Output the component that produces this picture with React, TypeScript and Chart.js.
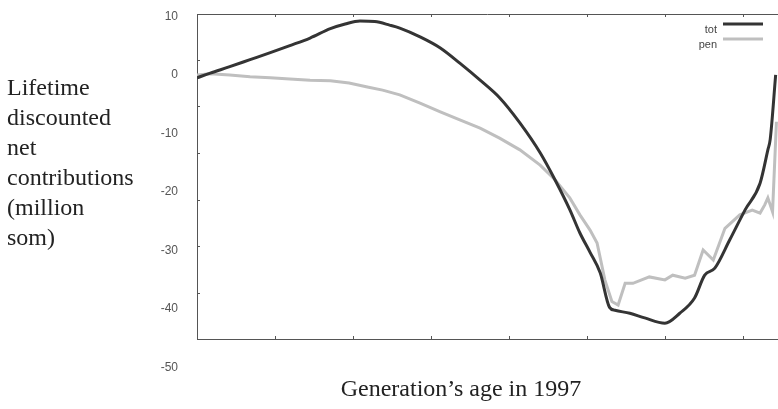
import React, { useEffect, useRef } from 'react';
import { Chart, registerables } from 'chart.js';

Chart.register(...registerables);

// Generation's age in 1997 (x) and lifetime discounted net contributions (million som)
const totAges = [0, 1.7, 4.2, 6.8, 9.4, 11.9, 14.5, 17.1, 19, 20.9, 22.8, 24.7, 26, 28.6, 31.2, 33.7, 36.3, 38.8, 41.4, 44, 45.9, 47.8, 49.1, 50.4, 51.7, 52.9, 53.6, 55.5, 57.4, 60, 61.9, 63.8, 65.1, 66.4, 68.3, 70.3, 72.2, 73.2, 73.5, 74.2];
const totValues = [-0.5, 0.3, 1.4, 2.6, 3.8, 5.0, 6.3, 7.9, 8.7, 9.2, 9.1, 8.5, 8.0, 6.5, 4.6, 2.0, -0.9, -3.9, -8.2, -13.3, -17.9, -23.0, -27.0, -30.3, -33.8, -39.7, -40.2, -40.7, -41.5, -42.4, -40.7, -38.1, -34.2, -33.0, -28.2, -23.0, -18.5, -12.8, -11.0, 0.0];

const penAges = [0, 1.7, 4.2, 6.8, 9.4, 11.9, 14.5, 17.1, 19.5, 22, 23.8, 26, 28.6, 31.2, 33.7, 36.3, 38.8, 41.4, 44, 45.9, 47.8, 49.1, 50.4, 51.3, 52.3, 53.2, 54, 54.9, 55.9, 58, 60, 61, 62.6, 63.8, 64.9, 66.2, 67.7, 69.6, 71.2, 72.2, 72.8, 73.2, 73.8, 74.3];
const penValues = [0.0, 0.2, 0.0, -0.3, -0.5, -0.7, -0.9, -1.0, -1.4, -2.1, -2.6, -3.4, -4.8, -6.3, -7.7, -9.1, -10.8, -12.8, -15.4, -17.9, -21.0, -23.9, -26.5, -28.7, -35.0, -38.7, -39.3, -35.6, -35.6, -34.5, -35.0, -34.2, -34.7, -34.2, -29.9, -31.6, -26.2, -23.9, -23.1, -23.6, -22.2, -21.0, -23.4, -8.0];

const seriesLabels = ['tot', 'pen'];
const seriesColors = ['#343434', '#bfbfbf'];

const yTickValues = [10, 0, -10, -20, -30, -40, -50];
const yFrameTicks = [2.6, -5.3, -13.3, -21.4, -29.2, -37.2];
const xFrameTicks = [10, 20, 30, 40, 50, 60, 70];

const yTitleLines = ['Lifetime', 'discounted', 'net', 'contributions', '(million', 'som)'];
const xTitle = 'Generation\u2019s age in 1997';

const frameAndLegend = {
  id: 'frameAndLegend',
  afterDraw(chart: any) {
    const { ctx, chartArea, scales } = chart;
    const { left, right, top, bottom } = chartArea;
    ctx.save();
    ctx.strokeStyle = '#555';
    ctx.lineWidth = 1;
    // top border
    ctx.beginPath();
    ctx.moveTo(left, top + 0.5);
    ctx.lineTo(right, top + 0.5);
    ctx.stroke();
    // inward ticks on x (top & bottom)
    xFrameTicks.forEach((v) => {
      const px = Math.round(scales.x.getPixelForValue(v)) + 0.5;
      ctx.beginPath();
      ctx.moveTo(px, bottom);
      ctx.lineTo(px, bottom - 3);
      ctx.moveTo(px, top);
      ctx.lineTo(px, top + 3);
      ctx.stroke();
    });
    // inward ticks on y
    yFrameTicks.forEach((v) => {
      const py = Math.round(scales.y.getPixelForValue(v)) + 0.5;
      ctx.beginPath();
      ctx.moveTo(left, py);
      ctx.lineTo(left + 3, py);
      ctx.stroke();
    });
    // legend
    ctx.font = '11px "Liberation Sans", Arial, sans-serif';
    ctx.textAlign = 'right';
    ctx.textBaseline = 'alphabetic';
    chart.data.datasets.forEach((ds: any, i: number) => {
      const ly = top + 10 + i * 15;
      ctx.fillStyle = '#444';
      ctx.fillText(ds.label, right - 61, ly + 9);
      ctx.strokeStyle = ds.borderColor;
      ctx.lineWidth = 3;
      ctx.beginPath();
      ctx.moveTo(right - 55, ly);
      ctx.lineTo(right - 15, ly);
      ctx.stroke();
    });
    ctx.restore();
  },
};

export default function App() {
  const canvasRef = useRef<HTMLCanvasElement | null>(null);

  useEffect(() => {
    if (!canvasRef.current) return;
    const chart = new Chart(canvasRef.current, {
      type: 'line',
      data: {
        datasets: [
          {
            label: seriesLabels[0],
            data: totAges.map((a, i) => ({ x: a, y: totValues[i] })),
            borderColor: seriesColors[0],
            borderWidth: 3,
            pointRadius: 0,
            cubicInterpolationMode: 'monotone',
          },
          {
            label: seriesLabels[1],
            data: penAges.map((a, i) => ({ x: a, y: penValues[i] })),
            borderColor: seriesColors[1],
            borderWidth: 3,
            pointRadius: 0,
            tension: 0,
          },
        ],
      },
      options: {
        animation: false,
        responsive: false,
        layout: { padding: { left: 0, right: 0, top: 14, bottom: 0 } },
        plugins: {
          legend: { display: false },
          tooltip: { enabled: false },
        },
        scales: {
          x: {
            type: 'linear',
            min: 0,
            max: 74.5,
            grid: { display: false },
            border: { display: true, color: '#555', width: 1 },
            ticks: { display: false },
            afterFit: (scale: any) => {
              scale.height = 70;
              scale.paddingLeft = 0;
              scale.paddingRight = 0;
            },
          },
          y: {
            type: 'linear',
            min: -45.1,
            max: 10.4,
            grid: { display: false },
            border: { display: true, color: '#555', width: 1 },
            afterBuildTicks: (scale: any) => {
              scale.ticks = yTickValues.map((v) => ({ value: v }));
            },
            ticks: {
              autoSkip: false,
              padding: 11,
              color: '#555',
              font: { family: '"Liberation Sans", Arial, sans-serif', size: 12 },
            },
            afterFit: (scale: any) => {
              scale.width = 197;
              scale.paddingTop = 0;
              scale.paddingBottom = 0;
            },
          },
        },
      },
      plugins: [frameAndLegend],
    });
    return () => chart.destroy();
  }, []);

  return (
    <div style={{ position: 'fixed', left: 0, top: 0, width: 778, height: 409, background: '#fff', overflow: 'hidden' }}>
      <canvas ref={canvasRef} width={778} height={409} style={{ position: 'absolute', left: 0, top: 0 }} />
      <div
        style={{
          position: 'absolute',
          left: 7,
          top: 72,
          fontFamily: '"Liberation Serif", "Times New Roman", serif',
          fontSize: 24,
          lineHeight: '30px',
          color: '#222',
        }}
      >
        {yTitleLines.map((l) => (
          <div key={l}>{l}</div>
        ))}
      </div>
      <div
        style={{
          position: 'absolute',
          left: 0,
          width: 922,
          top: 373,
          textAlign: 'center',
          fontFamily: '"Liberation Serif", "Times New Roman", serif',
          fontSize: 24,
          lineHeight: '30px',
          color: '#222',
        }}
      >
        {xTitle}
      </div>
    </div>
  );
}
